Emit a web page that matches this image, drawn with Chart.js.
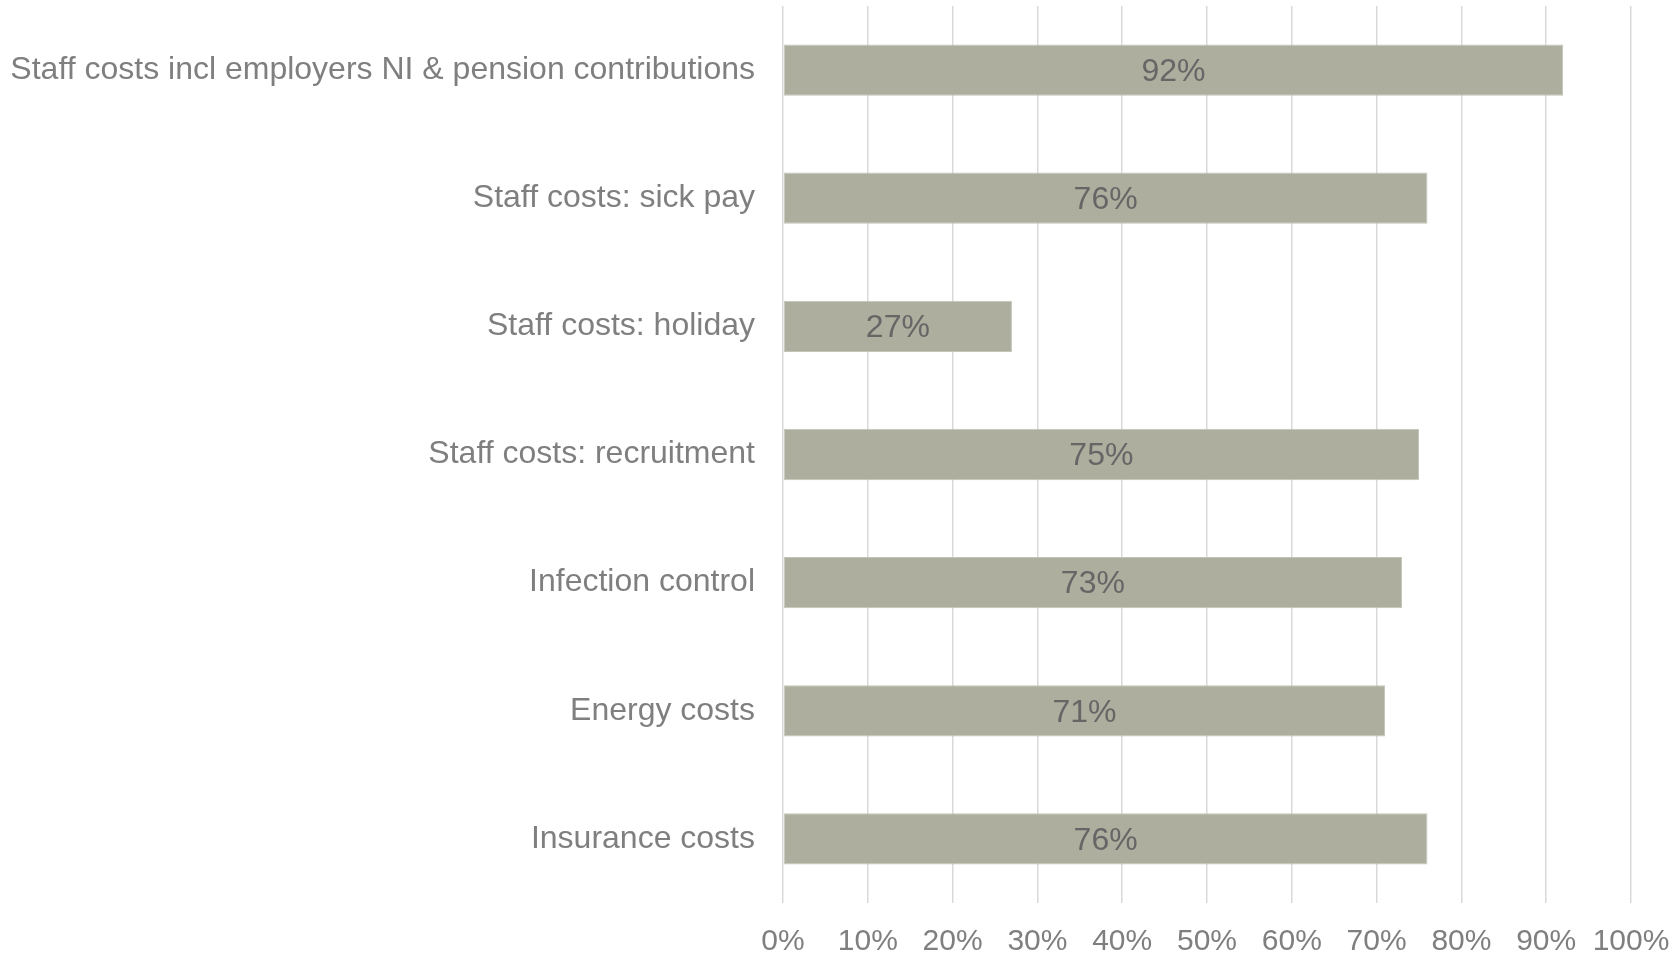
<!DOCTYPE html>
<html>
<head>
<meta charset="utf-8">
<script src="https://cdn.jsdelivr.net/npm/chart.js@4/dist/chart.umd.min.js"></script>
<style>
  html, body { margin: 0; padding: 0; background: #fff; }
  #wrap { width: 1678px; height: 957px; position: relative; }
</style>
</head>
<body>
<div id="wrap"><canvas id="costChart"></canvas></div>
<script>
// Cost categories and share of respondents (%)
const categories = [
  'Staff costs incl employers NI & pension contributions',
  'Staff costs: sick pay',
  'Staff costs: holiday',
  'Staff costs: recruitment',
  'Infection control',
  'Energy costs',
  'Insurance costs'
];
const shares = [92, 76, 27, 75, 73, 71, 76];
const xTicks = [0, 10, 20, 30, 40, 50, 60, 70, 80, 90, 100];

const FONT = 'Arial, "Liberation Sans", sans-serif';

// Write the value in the middle of each bar
const barLabels = {
  id: 'barLabels',
  afterDatasetsDraw(chart) {
    const { ctx } = chart;
    const meta = chart.getDatasetMeta(0);
    ctx.save();
    ctx.font = '32px ' + FONT;
    ctx.fillStyle = '#666666';
    ctx.textAlign = 'center';
    ctx.textBaseline = 'middle';
    meta.data.forEach((bar, i) => {
      const cx = (bar.x + bar.base) / 2;
      ctx.fillText(chart.data.datasets[0].data[i] + '%', cx, bar.y + 2);
    });
    ctx.restore();
  }
};

const ctx = document.getElementById('costChart').getContext('2d');
new Chart(ctx, {
  type: 'bar',
  data: {
    labels: categories,
    datasets: [{
      data: shares,
      backgroundColor: '#adae9e',
      borderColor: '#c4c5b8',
      borderWidth: 1,
      borderSkipped: false,
      barPercentage: 0.4,
      categoryPercentage: 1.0
    }]
  },
  options: {
    indexAxis: 'y',
    responsive: true,
    maintainAspectRatio: false,
    animation: false,
    layout: { padding: { left: 0, right: 47, top: 6, bottom: 0 } },
    plugins: {
      legend: { display: false },
      tooltip: { enabled: false }
    },
    scales: {
      x: {
        min: 0,
        max: 100,
        afterBuildTicks(axis) {
          axis.ticks = xTicks.map(v => ({ value: v }));
        },
        afterFit(axis) {
          // fixed height, and no extra room for the end labels
          axis.height = 54;
          axis.paddingLeft = 0;
          axis.paddingRight = 0;
        },
        grid: { color: '#d9d9d9', lineWidth: 1.5, drawTicks: false },
        border: { display: false },
        ticks: {
          padding: 21,
          color: '#7f7f7f',
          font: { family: FONT, size: 30 },
          maxRotation: 0,
          autoSkip: false,
          callback: v => v + '%'
        }
      },
      y: {
        afterFit(axis) {
          axis.width = 783;
          axis.paddingTop = 0;
          axis.paddingBottom = 0;
        },
        grid: { display: false, drawTicks: false },
        border: { display: false },
        ticks: {
          padding: 28,
          color: '#7f7f7f',
          font: { family: FONT, size: 32 }
        }
      }
    }
  },
  plugins: [barLabels]
});
</script>
</body>
</html>
